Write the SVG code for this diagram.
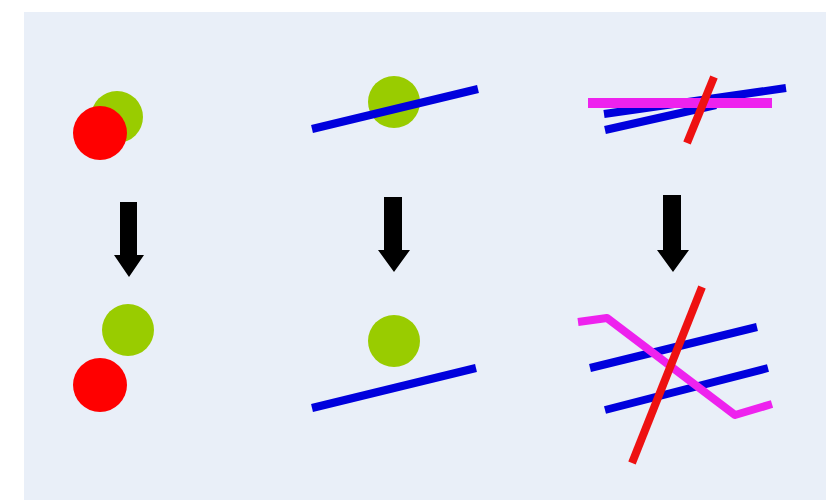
<svg xmlns="http://www.w3.org/2000/svg" width="826" height="500" viewBox="0 0 826 500">
<defs>
<style>
.green{fill:#99cc00}
.red{fill:#ff0000}
.blue{stroke:#0000dd;stroke-width:8;fill:none}
.redl{stroke:#ee1111;stroke-width:8;fill:none}
.mag{stroke:#ee22ee;stroke-width:8;fill:none;stroke-linejoin:round}
.arrow{fill:#000000}
</style>
</defs>
<rect x="0" y="0" width="826" height="500" fill="#ffffff"/>
<rect x="24" y="12" width="802" height="488" fill="#e9eff8"/>
<g id="col1-top">
<circle class="green" cx="117" cy="117" r="26"/>
<circle class="red" cx="100" cy="133" r="27"/>
</g>
<g id="col2-top">
<circle class="green" cx="394" cy="102" r="26"/>
<line class="blue" x1="312" y1="129" x2="478" y2="89"/>
</g>
<g id="col3-top">
<line class="blue" x1="604" y1="114" x2="786" y2="88"/>
<line class="blue" x1="605" y1="130" x2="716" y2="105"/>
<line x1="588" y1="103" x2="772" y2="103" stroke="#ee22ee" stroke-width="10"/>
<line class="redl" x1="714" y1="77" x2="687" y2="143"/>
</g>
<g id="connectors">
<path class="arrow" d="M120,202 H137 V255 H144 L129,277 L114,255 H120 Z"/>
<path class="arrow" d="M384,197 H402 V250 H410 L394,272 L378,250 H384 Z"/>
<path class="arrow" d="M663,195 H681 V250 H689 L673,272 L657,250 H663 Z"/>
</g>
<g id="col1-bottom">
<circle class="green" cx="128" cy="330" r="26"/>
<circle class="red" cx="100" cy="385" r="27"/>
</g>
<g id="col2-bottom">
<circle class="green" cx="394" cy="341" r="26"/>
<line class="blue" x1="312" y1="408" x2="476" y2="368"/>
</g>
<g id="col3-bottom">
<line class="blue" x1="590" y1="368" x2="757" y2="327"/>
<line class="blue" x1="605" y1="410" x2="768" y2="368"/>
<polyline class="mag" points="578,322 607,318 735,415 772,404"/>
<line class="redl" x1="702" y1="287" x2="632" y2="463"/>
</g>
</svg>
